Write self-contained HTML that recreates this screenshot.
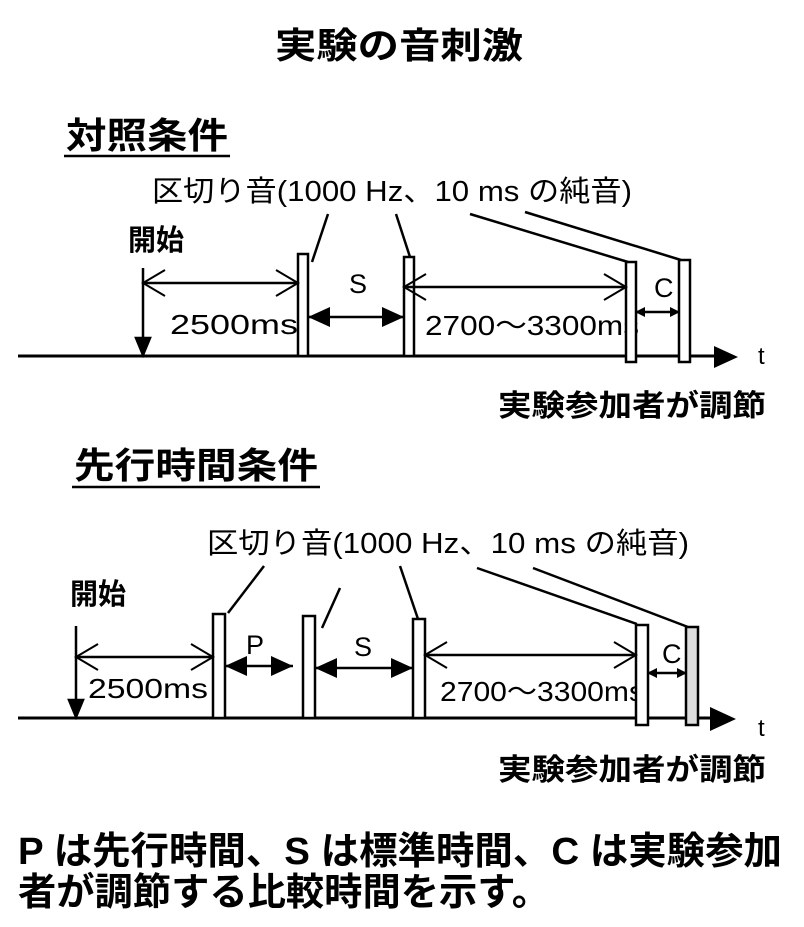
<!DOCTYPE html>
<html><head><meta charset="utf-8"><style>
html,body{margin:0;padding:0;background:#fff}
svg{display:block}
text{font-family:"Liberation Sans","Noto Sans CJK JP",sans-serif;fill:#000}
.b{font-weight:bold}
</style></head><body>
<svg width="804" height="927" viewBox="0 0 804 927" xmlns="http://www.w3.org/2000/svg">
<defs>
<marker id="fa" markerWidth="10" markerHeight="10" refX="9" refY="5" orient="auto-start-reverse" markerUnits="userSpaceOnUse"><path d="M0,0 L10,5 L0,10 z" fill="#000"/></marker>
<marker id="fb" markerWidth="24" markerHeight="24" refX="22" refY="12" orient="auto-start-reverse" markerUnits="userSpaceOnUse"><path d="M0,2 L22,12 L0,22 z" fill="#000"/></marker>
<marker id="oa" markerWidth="26" markerHeight="30" refX="24" refY="15" orient="auto-start-reverse" markerUnits="userSpaceOnUse"><path d="M2,2 L24,15 L2,28" fill="none" stroke="#000" stroke-width="2"/></marker>
</defs>
<g stroke="#000" stroke-width="2.5" fill="none">
<g stroke="none" lengthAdjust="spacingAndGlyphs">
<text x="275" y="58" font-size="36" class="b" textLength="248" lengthAdjust="spacingAndGlyphs">実験の音刺激</text>
<text x="66" y="148" font-size="36" class="b" textLength="162" lengthAdjust="spacingAndGlyphs">対照条件</text>
<text x="152" y="201" font-size="29" textLength="480" lengthAdjust="spacingAndGlyphs">区切り音(1000 Hz、10 ms の純音)</text>
<text x="128" y="250" font-size="29" class="b" textLength="56" lengthAdjust="spacingAndGlyphs">開始</text>
<text x="758" y="364" font-size="24">t</text>
<text x="170" y="334" font-size="28" textLength="128" lengthAdjust="spacingAndGlyphs">2500ms</text>
<text x="349" y="293" font-size="27">S</text>
<text x="425" y="335" font-size="28" textLength="214" lengthAdjust="spacingAndGlyphs">2700〜3300ms</text>
<text x="654" y="297" font-size="27">C</text>
<text x="498" y="416" font-size="30" class="b" textLength="268" lengthAdjust="spacingAndGlyphs">実験参加者が調節</text>

<text x="74" y="478" font-size="36" class="b" textLength="244" lengthAdjust="spacingAndGlyphs">先行時間条件</text>
<text x="207" y="553" font-size="29" textLength="482" lengthAdjust="spacingAndGlyphs">区切り音(1000 Hz、10 ms の純音)</text>
<text x="70" y="604" font-size="29" class="b" textLength="56" lengthAdjust="spacingAndGlyphs">開始</text>
<text x="758" y="736" font-size="24">t</text>
<text x="88" y="698" font-size="28" textLength="120" lengthAdjust="spacingAndGlyphs">2500ms</text>
<text x="246" y="654" font-size="27">P</text>
<text x="354" y="656" font-size="27">S</text>
<text x="440" y="701" font-size="28" textLength="204" lengthAdjust="spacingAndGlyphs">2700〜3300ms</text>
<text x="662" y="663" font-size="27">C</text>
<text x="498" y="780" font-size="30" class="b" textLength="268" lengthAdjust="spacingAndGlyphs">実験参加者が調節</text>

<text x="18" y="864" font-size="38" class="b" textLength="764" lengthAdjust="spacingAndGlyphs">P は先行時間、S は標準時間、C は実験参加</text>
<text x="18" y="905" font-size="38" class="b" textLength="532" lengthAdjust="spacingAndGlyphs">者が調節する比較時間を示す。</text>
</g>

<line x1="64" y1="156" x2="230" y2="156"/>
<line x1="18" y1="356" x2="716" y2="356" stroke-width="3"/>
<path d="M714,346 L738,357 L714,368 z" fill="#000" stroke="none"/>
<rect x="298" y="254" width="10" height="102" fill="#fff"/>
<rect x="404" y="257" width="10" height="99" fill="#fff"/>
<rect x="626" y="262" width="10" height="100" fill="#fff"/>
<rect x="679" y="260" width="11" height="102" fill="#fff"/>
<line x1="143" y1="268" x2="143" y2="340"/>
<path d="M136,338 L150,338 L143,355 z" fill="#000"/>
<line x1="143" y1="283" x2="298" y2="283" marker-start="url(#oa)" marker-end="url(#oa)"/>
<line x1="308" y1="317" x2="404" y2="317" marker-start="url(#fb)" marker-end="url(#fb)"/>
<line x1="404" y1="287" x2="626" y2="287" marker-start="url(#oa)" marker-end="url(#oa)"/>
<line x1="636" y1="312" x2="679" y2="312" marker-start="url(#fa)" marker-end="url(#fa)"/>
<line x1="328" y1="214" x2="312" y2="262"/>
<line x1="396" y1="214" x2="410" y2="257"/>
<line x1="470" y1="214" x2="628" y2="262"/>
<line x1="525" y1="212" x2="681" y2="260"/>

<line x1="72" y1="487" x2="320" y2="487"/>
<line x1="18" y1="718" x2="712" y2="718" stroke-width="3"/>
<path d="M710,707 L736,719 L710,731 z" fill="#000" stroke="none"/>
<rect x="213" y="614" width="12" height="104" fill="#fff"/>
<rect x="303" y="616" width="12" height="102" fill="#fff"/>
<rect x="413" y="619" width="12" height="99" fill="#fff"/>
<rect x="636" y="625" width="12" height="100" fill="#fff"/>
<rect x="686" y="627" width="12" height="98" fill="#ddd"/>
<line x1="76" y1="626" x2="76" y2="702"/>
<path d="M69,700 L83,700 L76,717 z" fill="#000"/>
<line x1="76" y1="657" x2="213" y2="657" marker-start="url(#oa)" marker-end="url(#oa)"/>
<line x1="225" y1="666" x2="293" y2="666" marker-start="url(#fb)" marker-end="url(#fb)"/>
<line x1="315" y1="668" x2="413" y2="668" marker-start="url(#fb)" marker-end="url(#fb)"/>
<line x1="425" y1="655" x2="636" y2="655" marker-start="url(#oa)" marker-end="url(#oa)"/>
<line x1="648" y1="673" x2="686" y2="673" marker-start="url(#fa)" marker-end="url(#fa)"/>
<line x1="264" y1="566" x2="228" y2="613"/>
<line x1="340" y1="588" x2="322" y2="628"/>
<line x1="400" y1="566" x2="418" y2="619"/>
<line x1="477" y1="568" x2="637" y2="624"/>
<line x1="533" y1="568" x2="688" y2="627"/>
</g>
</svg>
</body></html>
